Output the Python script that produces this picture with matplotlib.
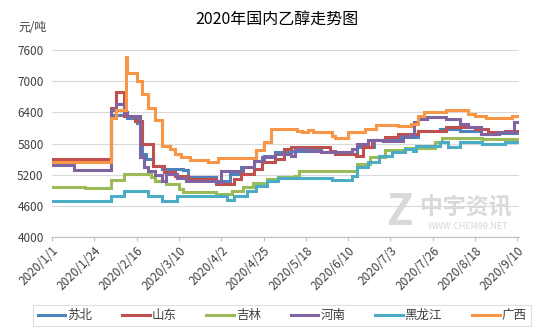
import numpy as np
import pandas as pd
import matplotlib
matplotlib.use("Agg")
import matplotlib.pyplot as plt

plt.rcParams['font.family'] = ['Noto Sans CJK SC', 'DejaVu Sans']

# price breakpoints (date, 元/吨), prices hold until the next date
subei_dates = ["01-01", "02-02", "02-11", "02-16", "02-19", "02-21", "02-25", "03-01", "03-12", "03-15",
               "03-30", "04-07", "04-13", "04-20", "04-25", "05-01", "05-10", "05-18", "05-26", "06-11",
               "06-15", "06-24", "07-08", "07-18", "07-30", "08-10", "08-21", "08-29", "09-10"]
subei_vals = [5480, 6350, 6300, 6200, 5600, 5500, 5375, 5310, 5290, 5150,
              5085, 5214, 5342, 5471, 5570, 5632, 5665, 5697, 5632, 5600,
              5730, 5860, 5922, 6050, 6085, 6050, 5988, 6010, 6010]

shandong_dates = ["01-01", "02-02", "02-05", "02-09", "02-15", "02-19", "02-25", "03-02", "03-08", "03-15",
                  "03-30", "04-09", "04-13", "04-20", "04-24", "05-01", "05-06", "05-10", "05-31", "06-03",
                  "06-14", "06-18", "06-23", "06-30", "07-07", "07-18", "08-02", "08-18", "08-25", "09-03",
                  "09-10"]
shandong_vals = [5500, 6480, 6800, 6330, 6230, 5800, 5375, 5260, 5180, 5117,
                 5020, 5117, 5214, 5310, 5440, 5504, 5697, 5730, 5665, 5600,
                 5570, 5730, 5860, 5922, 5988, 6050, 6116, 6085, 6020, 6050,
                 6050]

jilin_dates = ["01-01", "01-19", "02-02", "02-09", "02-24", "02-26", "03-03", "03-10", "03-12", "03-30",
               "04-08", "04-14", "04-19", "04-27", "05-03", "05-12", "05-14", "06-15", "06-22", "06-30",
               "07-11", "07-27", "07-31", "08-22", "09-10"]
jilin_vals = [4970, 4940, 5100, 5210, 5150, 5085, 5020, 4920, 4870, 4820,
              4890, 4955, 5050, 5117, 5160, 5180, 5278, 5408, 5535, 5678,
              5720, 5826, 5910, 5890, 5890]

henan_dates = ["01-01", "01-13", "02-02", "02-05", "02-09", "02-11", "02-18", "02-20", "02-22", "02-26",
               "03-01", "03-03", "03-09", "03-14", "03-30", "04-02", "04-14", "04-20", "04-24", "05-01",
               "05-10", "05-12", "05-19", "05-26", "06-12", "06-15", "06-21", "06-29", "07-10", "07-14",
               "07-16", "07-18", "07-23", "08-02", "08-10", "08-14", "08-21", "08-31", "09-08", "09-10"]
henan_vals = [5380, 5300, 6440, 6560, 6400, 6340, 5535, 5342, 5278, 5200,
              5085, 5214, 5137, 5085, 5060, 5278, 5342, 5471, 5535, 5600,
              5570, 5697, 5665, 5632, 5697, 5795, 5860, 5850, 5955, 5988,
              6213, 6278, 6310, 6278, 6182, 6116, 5988, 6020, 6210, 6210]

hlj_dates = ["01-01", "02-02", "02-09", "02-22", "03-01", "03-09", "04-05", "04-09", "04-16", "04-21",
             "04-27", "05-03", "06-01", "06-12", "06-15", "06-21", "06-27", "07-04", "07-11", "07-15",
             "07-17", "07-30", "08-03", "08-10", "08-22", "09-03", "09-10"]
hlj_vals = [4700, 4790, 4890, 4790, 4700, 4790, 4710, 4790, 4890, 4990,
            5085, 5137, 5098, 5180, 5342, 5440, 5570, 5632, 5697, 5665,
            5762, 5826, 5742, 5826, 5795, 5840, 5840]

guangxi_dates = ["01-01", "02-02", "02-05", "02-10", "02-11", "02-16", "02-19", "02-22", "02-26", "03-01",
                 "03-05", "03-08", "03-11", "03-16", "03-26", "03-31", "04-21", "04-25", "04-29", "05-13",
                 "05-16", "05-19", "05-22", "06-01", "06-03", "06-10", "06-19", "06-25", "07-07", "07-14",
                 "07-18", "07-21", "08-02", "08-14", "08-18", "08-24", "09-07", "09-10"]
guangxi_vals = [5450, 6300, 6450, 7470, 7150, 7000, 6760, 6480, 6250, 5760,
                5700, 5600, 5540, 5490, 5450, 5530, 5680, 5830, 6085, 6050,
                6020, 6060, 6030, 5950, 5900, 6020, 6085, 6160, 6130, 6180,
                6340, 6400, 6440, 6375, 6330, 6300, 6330, 6330]

names = ["苏北", "山东", "吉林", "河南", "黑龙江", "广西"]
series = [(subei_dates, subei_vals), (shandong_dates, shandong_vals), (jilin_dates, jilin_vals),
          (henan_dates, henan_vals), (hlj_dates, hlj_vals), (guangxi_dates, guangxi_vals)]
colors = ["#4F81BD", "#C0504D", "#9BBB59", "#8064A2", "#4BACC6", "#F79646"]

fig = plt.figure(figsize=(5.53, 3.32), dpi=100)
ax = fig.add_axes([0.094, 0.286, 0.845, 0.563])

for name, (d, v), c in zip(names, series, colors):
    x = pd.to_datetime(["2020-" + s for s in d])
    ax.plot(x, v, drawstyle="steps-post", color=c, lw=2.2, label=name, solid_joinstyle="miter")

start = pd.Timestamp("2020-01-01")
ticks = pd.date_range("2020-01-01", "2020-09-10", freq="23D")
ax.set_xlim(start, pd.Timestamp("2020-09-11"))
ax.set_xticks(ticks)
ax.set_xticklabels([f"{t.year}/{t.month}/{t.day}" for t in ticks], rotation=45,
                   ha="right", rotation_mode="anchor", fontsize=8.5, color="#404040")
ax.set_ylim(4000, 7600)
ax.set_yticks(np.arange(4000, 7601, 600))
ax.tick_params(axis="y", length=0, labelsize=8.5, labelcolor="#404040", pad=6)
ax.tick_params(axis="x", length=3, color="#bfbfbf", pad=2)
ax.grid(axis="y", color="#d9d9d9", lw=0.8)
ax.set_axisbelow(True)
for s in ["top", "right", "left"]:
    ax.spines[s].set_visible(False)
ax.spines["bottom"].set_color("#bfbfbf")

fig.text(0.5, 0.94, "2020年国内乙醇走势图", ha="center", va="center", fontsize=11.5, color="#000000")
fig.text(0.033, 0.918, "元/吨", ha="left", va="center", fontsize=8.5, color="#404040")

# watermark
fig.text(0.723, 0.36, "Z", fontsize=31, fontweight="bold", color="#d9d9d9", ha="center", va="center")
fig.text(0.843, 0.375, "中宇资讯", fontsize=16.5, fontweight="bold", color="#d9d9d9", ha="center", va="center")
fig.text(0.846, 0.318, "WWW.CHEM99.NET", fontsize=6.5, color="#d6d6d6", ha="center", va="center")

leg = fig.legend(loc="center", bbox_to_anchor=(0.51, 0.05), ncol=6, frameon=True, fancybox=False,
                 fontsize=9, handlelength=2.2, handletextpad=0.15, columnspacing=2.4,
                 borderpad=0.35, edgecolor="#d9d9d9")
for t in leg.get_texts():
    t.set_color("#404040")
leg.get_frame().set_linewidth(0.8)

fig.savefig("out.png", dpi=100)
